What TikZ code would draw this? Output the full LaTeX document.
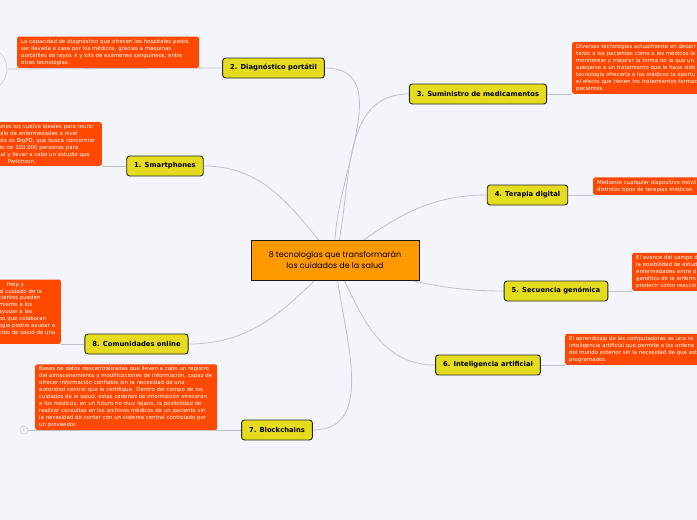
\documentclass[tikz,border=0pt]{standalone}
\usepackage{fontspec}
\setmainfont{DejaVu Sans}
\newfontfamily\titlefont{Poppins}
\usepackage{tikz}
\usetikzlibrary{positioning,backgrounds}
\definecolor{canvas}{RGB}{243,245,251}
\definecolor{notefill}{RGB}{255,72,0}
\definecolor{branchfill}{RGB}{229,220,32}
\definecolor{topicfill}{RGB}{255,153,0}
\definecolor{linkgray}{RGB}{192,194,202}
\tikzset{
  topic/.style={draw=black!90,line width=0.9pt,fill=topicfill,
                minimum width=168pt,minimum height=40pt,align=center,
                font=\titlefont\fontsize{8}{10.5}\selectfont},
  branch/.style={draw=black!85,line width=0.9pt,fill=branchfill,
                 rounded corners=3pt,minimum height=20pt,inner xsep=7.5pt,
                 font=\bfseries\fontsize{6.8}{8}\selectfont},
  note/.style={fill=notefill,text=white,rounded corners=2pt,align=left,
               inner xsep=4pt,inner ysep=2.5pt,
               font=\fontsize{5.4}{6.9}\selectfont},
  link/.style={draw=linkgray,line width=0.8pt},
  knob/.style={circle,draw=linkgray!80,line width=0.6pt,fill=canvas,
               inner sep=0pt},
}

\begin{document}
\begin{tikzpicture}[x=1pt, y=1pt]
  \useasboundingbox (0,0) rectangle (697,-520);
  \clip (0,0) rectangle (697,-520);
  % The centre, then the eight branches round it.
  \node[topic] (c) at (335,-260)
       {8 tecnologías que transformarán\\los cuidados de la salud};
  \node[branch] (n1) at (165,-166) {1. Smartphones};
  \node[branch] (n2) at (273.5,-68) {2. Diagnóstico portátil};
  \node[branch] (n3) at (478,-94) {3. Suministro de medicamentos};
  \node[branch] (n4) at (527.5,-195) {4. Terapia digital};
  \node[branch] (n5) at (556,-291) {5. Secuencia genómica};
  \node[branch] (n6) at (488,-365) {6. Inteligencia artificial};
  \node[branch] (n7) at (277,-430) {7. Blockchains};
  \node[branch] (n8) at (136.5,-344) {8. Comunidades online};
  % Collapsed ends, half off the page.
  \node[knob, minimum size=44pt] (k2) at (-15,-69) {};
  \node[knob, minimum size=8pt, text=linkgray,
        font=\fontsize{4}{4}\selectfont] (k7) at (24,-430) {1};
  % The notes sit on the line of their branch.
  \node[note, text width=99pt, anchor=south east] (d1) at (102,-166)
       {ones los vuelve ideales para reunir\\ollo de enfermedades a nivel\\
        plo es BigPD, que busca concentrar\\ás de 100,000 personas para\\
        ud y llevar a cabo un estudio que\\\hspace*{9pt}Parkinson.};
  \node[note, text width=174pt, anchor=south west] (d2) at (17,-68)
       {La capacidad de diagnóstico que ofrecen los hospitales podrá\\
        ser llevada a casa por los médicos, gracias a máquinas\\
        portátiles de rayos X y kits de exámenes sanguíneos, entre\\
        otras tecnologías.};
  \node[note, text width=150pt, anchor=south west] (d3) at (572,-94)
       {Diversas tecnologías actualmente en desarr\\
        tanto a los pacientes como a los médicos la\\
        monitorear y mejorar la forma en la que un\\
        apegarse a un tratamiento que le haya sido\\
        tecnología ofrecería a los médicos la oportu\\
        el efecto que tienen los tratamientos farmac\\
        pacientes.};
  \node[note, text width=120pt, anchor=south west] (d4) at (593,-195)
       {Mediante cualquier dispositivo móvil\\
        distintos tipos de terapias médicas.};
  \node[note, text width=80pt, anchor=south west] (d5) at (632,-291)
       {El avance del campo d\\la posibilidad de estud\\
        enfermedades entre d\\genético de la enferm\\
        predecir cómo reaccio};
  \node[note, text width=150pt, anchor=south west] (d6) at (565,-365)
       {El aprendizaje de las computadoras es una ra\\
        inteligencia artificial que permite a los ordena\\
        del mundo exterior sin la necesidad de que est\\
        programados.};
  \node[note, text width=174pt, anchor=south west] (d7) at (35,-430)
       {Bases de datos descentralizadas que llevan a cabo un registro\\
        del almacenamiento y modificaciones de información, capaz de\\
        ofrecer información confiable sin la necesidad de una\\
        autoridad central que la certifique. Dentro del campo de los\\
        cuidados de la salud, estas cadenas de información ofrecerán\\
        a los médicos, en un futuro no muy lejano, la posibilidad de\\
        realizar consultas en los archivos médicos de un paciente sin\\
        la necesidad de contar con un sistema central controlado por\\
        un proveedor.};
  \node[note, text width=58pt, anchor=south east] (d8) at (61,-344)
       {\hspace*{8pt}Help y\\al cuidado de la\\cientes pueden\\
        miento a los\\ayudar a las\\po que colaboran\\
        ogía podría ayudar a\\ctos de salud de una\\.};
  \begin{scope}[on background layer]
    \fill[canvas] (0,0) rectangle (697,-520);
    % Curves from the centre out to each branch.
    \draw[link] (n1.east) to[out=0, in=130] (c.center);
    \draw[link] (n2.east) to[out=0, in=95] (c.center);
    \draw[link] (n3.west) to[out=180, in=75] (c.center);
    \draw[link] (n4.west) to[out=180, in=35] (c.center);
    \draw[link] (n5.west) to[out=180, in=-15] (c.center);
    \draw[link] (n6.west) to[out=180, in=-65] (c.center);
    \draw[link] (n7.east) to[out=0, in=-85] (c.center);
    \draw[link] (n8.east) to[out=0, in=-135] (c.center);
    % Straight runs from each branch to its note.
    \draw[link] (n1.west) -- (d1.south east);
    \draw[link] (n2.west) -- (k2.east);
    \draw[link] (n3.east) -- (d3.south west);
    \draw[link] (n4.east) -- (d4.south west);
    \draw[link] (n5.east) -- (d5.south west);
    \draw[link] (n6.east) -- (d6.south west);
    \draw[link] (n7.west) -- (k7.east);
    \draw[link] (n8.west) -- (d8.south east);
  \end{scope}
\end{tikzpicture}
\end{document}
